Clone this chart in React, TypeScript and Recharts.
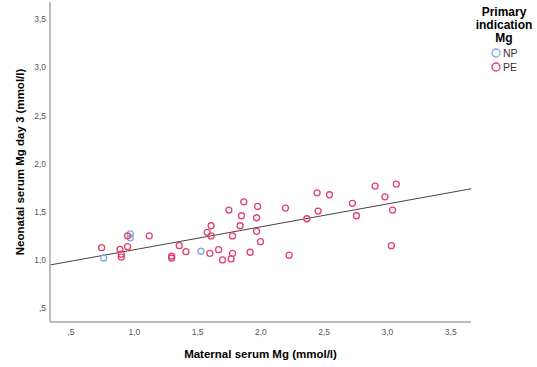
import { ReferenceLine, Scatter, ScatterChart, XAxis, YAxis, Label } from "recharts"

// maternal vs neonatal serum Mg, split by primary indication
const npMaternal = [0.758, 0.968, 0.968, 1.526]
const npNeonatal = [1.02, 1.27, 1.23, 1.09]

const peMaternal = [
  0.742, 0.887, 0.897, 0.897, 0.947, 0.947, 1.118, 1.295, 1.295, 1.355, 1.408,
  1.576, 1.607, 1.607, 1.597, 1.666, 1.697, 1.747, 1.776, 1.776, 1.765, 1.865,
  1.847, 1.836, 1.974, 1.966, 1.966, 1.997, 1.915, 2.194, 2.223, 2.444, 2.542,
  2.452, 2.363, 2.723, 2.755, 2.902, 3.07, 2.98, 3.04, 3.031,
]
const peNeonatal = [
  1.127, 1.11, 1.06, 1.03, 1.138, 1.25, 1.25, 1.04, 1.02, 1.148, 1.086,
  1.287, 1.355, 1.249, 1.069, 1.107, 1.0, 1.518, 1.249, 1.069, 1.01, 1.604,
  1.459, 1.355, 1.556, 1.438, 1.297, 1.19, 1.08, 1.539, 1.049, 1.697, 1.677,
  1.508, 1.428, 1.588, 1.459, 1.767, 1.788, 1.656, 1.518, 1.148,
]

const axisTicks = [0.5, 1.0, 1.5, 2.0, 2.5, 3.0, 3.5]
const xDomain: [number, number] = [0.334, 3.66]
const yDomain: [number, number] = [0.355, 3.68]

// linear fit over all cases
const fitIntercept = 0.868
const fitSlope = 0.238

const NP_COLOR = "#7EA8EC"
const PE_COLOR = "#E3416C"
const FONT = "'Liberation Sans', Arial, sans-serif"

const npData = npMaternal.map((x, i) => ({ x, y: npNeonatal[i] }))
const peData = peMaternal.map((x, i) => ({ x, y: peNeonatal[i] }))

// SPSS style: comma decimal, no leading zero
const fmt = (v: number) => v.toFixed(1).replace(".", ",").replace(/^0/, "")

const ring = (color: string) => (props: any) => (
  <circle cx={props.cx} cy={props.cy} r={3} fill="none" stroke={color} strokeWidth={1.3} />
)

export default function App() {
  return (
    <div style={{ position: "absolute", left: 0, top: 0, width: 537, height: 367, background: "#fff", fontFamily: FONT }}>
      <ScatterChart width={537} height={367} margin={{ top: 2, right: 66, bottom: 0, left: 0 }}>
        <XAxis
          type="number"
          dataKey="x"
          domain={xDomain}
          ticks={axisTicks}
          tickFormatter={fmt}
          allowDataOverflow
          height={45}
          stroke="#A6A6A6"
          strokeWidth={1.5}
          tickLine={false}
          tickSize={0}
          tick={{ fill: "#555", fontSize: 8.5, fontFamily: FONT }}
          tickMargin={7}
        >
          <Label
            value="Maternal serum Mg (mmol/l)"
            position="insideBottom"
            offset={9}
            style={{ fill: "#000", fontSize: 11.5, fontWeight: 700, fontFamily: FONT }}
          />
        </XAxis>
        <YAxis
          type="number"
          dataKey="y"
          domain={yDomain}
          ticks={axisTicks}
          tickFormatter={fmt}
          allowDataOverflow
          width={50}
          stroke="#A6A6A6"
          strokeWidth={1.5}
          tickLine={false}
          tickSize={0}
          tick={{ fill: "#555", fontSize: 8.5, fontFamily: FONT }}
          tickMargin={4}
        >
          <Label
            value="Neonatal serum Mg day 3 (mmol/l)"
            angle={-90}
            position="insideLeft"
            offset={20}
            style={{ textAnchor: "middle", fill: "#000", fontSize: 11.5, fontWeight: 700, fontFamily: FONT }}
          />
        </YAxis>
        <ReferenceLine
          segment={[
            { x: xDomain[0], y: fitIntercept + fitSlope * xDomain[0] },
            { x: xDomain[1], y: fitIntercept + fitSlope * xDomain[1] },
          ]}
          stroke="#444"
          strokeWidth={1}
        />
        <Scatter name="NP" data={npData} shape={ring(NP_COLOR)} isAnimationActive={false} />
        <Scatter name="PE" data={peData} shape={ring(PE_COLOR)} isAnimationActive={false} />
      </ScatterChart>

      <div style={{ position: "absolute", left: 472, top: 6, width: 64, textAlign: "center", fontSize: 12, fontWeight: 700, lineHeight: "13px", color: "#000" }}>
        Primary
        <br />
        indication
        <br />
        Mg
      </div>
      {[
        { name: "NP", color: NP_COLOR, top: 47 },
        { name: "PE", color: PE_COLOR, top: 61 },
      ].map((item) => (
        <div key={item.name} style={{ position: "absolute", left: 491, top: item.top, display: "flex", alignItems: "center", fontSize: 10.5, color: "#333" }}>
          <svg width={10} height={12}>
            <circle cx={5} cy={6} r={4} fill="none" stroke={item.color} strokeWidth={1.3} />
          </svg>
          <span style={{ marginLeft: 2 }}>{item.name}</span>
        </div>
      ))}
    </div>
  )
}
